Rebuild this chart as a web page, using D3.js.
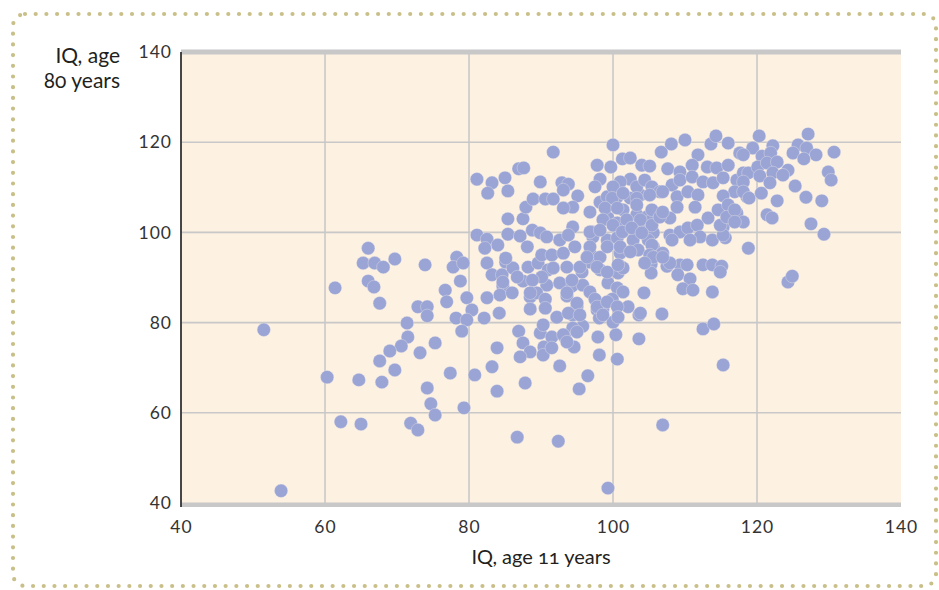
<!DOCTYPE html>
<html><head><meta charset="utf-8">
<script src="https://cdn.jsdelivr.net/npm/d3@7"></script>
<style>
html,body{margin:0;padding:0;background:#fff;}
svg{display:block;}
.tick text{font-family:Lato,"Open Sans",sans-serif;font-size:17.5px;fill:#333;letter-spacing:1px;}
.title{font-family:Lato,"Open Sans",sans-serif;fill:#231f20;font-variant-numeric:oldstyle-nums;font-feature-settings:"onum";}
</style></head>
<body>
<svg id="chart" width="939" height="590"></svg>
<script>
// IQ at age 11 (x) and IQ at age 80 (y), one entry per person
const iq11 = [
51.5,53.9,61.4,60.3,62.2,65.0,64.7,66.0,65.3,66.9,68.1,69.7,73.9,66.0,66.8,67.6,72.9,74.2,74.2,76.7,76.9,78.3,77.8,79.2,78.8,79.7,80.4,78.2,79.7,79.0,71.4,71.5,70.6,69.0,67.6,69.7,73.2,75.3,67.9,74.2,77.4,80.8,74.7,75.3,79.3,71.9,72.9,
82.5,82.1,84.2,82.5,83.2,84.6,85.1,86.1,84.7,84.3,86.0,87.5,88.2,89.6,91.0,90.8,88.5,88.5,89.4,90.6,90.6,92.2,93.6,94.3,95.8,95.0,94.4,95.8,94.4,93.3,94.6,92.6,86.9,87.5,88.5,87.1,89.9,90.3,90.4,90.3,91.5,91.5,83.9,83.2,83.9,87.8,95.3,96.5,93.1,93.6,95.0,97.9,98.1,100.4,100.6,86.7,92.4,99.3,106.9,
96.8,98.2,95.7,101.0,100.7,99.3,100.6,101.4,96.8,97.5,99.9,98.6,97.8,98.1,102.1,103.6,104.3,106.8,105.3,105.3,107.5,109.3,110.3,109.0,110.7,109.7,111.1,112.5,113.8,115.1,114.9,113.8,112.5,114.0,115.3,100.0,103.6,
81.1,83.2,82.6,85.0,85.4,86.9,87.6,91.7,89.9,81.1,82.5,82.2,84.0,85.1,85.4,85.4,87.1,87.5,87.9,88.9,90.6,91.7,92.9,93.8,93.1,95.1,94.4,93.1,94.4,
100.0,97.8,98.2,97.5,96.8,98.2,99.2,100.6,102.4,103.8,101.4,103.3,104.7,105.4,99.3,100.6,102.4,103.8,105.6,88.8,89.9,90.8,92.6,93.8,97.1,97.2,99.2,100.6,102.8,104.9,105.6,88.1,90.1,91.5,93.1,94.7,96.8,98.2,101.0,103.5,90.1,91.7,93.6,95.4,97.8,99.2,101.4,84.7,86.7,88.8,92.6,94.3,88.5,93.6,95.0,97.8,99.2,100.6,103.8,93.8,95.4,98.6,100.7,
99.7,101.3,102.4,106.7,108.1,110.0,104.0,105.1,107.6,109.3,111.8,113.6,114.3,116.0,117.6,111.0,113.1,114.4,116.0,102.4,101.0,100.0,103.3,104.4,105.4,106.5,108.2,109.3,111.0,112.5,113.9,115.3,117.2,118.1,118.6,116.9,115.3,99.9,101.4,103.3,105.1,106.9,108.9,110.4,111.8,98.9,100.6,103.3,105.4,106.9,107.9,108.9,111.4,113.2,114.6,116.0,117.2,118.1,115.3,98.6,100.0,101.9,103.8,105.4,106.5,96.8,98.2,101.3,102.6,104.0,107.9,109.3,110.4,111.7,112.1,113.8,115.6,96.8,99.2,101.0,102.4,105.4,106.9,105.1,108.2,110.7,96.4,100.7,107.9,118.8,
120.3,127.1,119.4,122.2,118.1,120.7,121.9,125.7,126.9,125.0,128.2,126.5,130.7,129.9,130.3,118.8,120.1,121.4,122.8,124.3,120.4,122.2,123.6,125.3,121.8,118.1,118.1,118.9,120.6,122.8,126.8,129.0,121.4,122.1,127.5,129.3,124.3,124.9,
106.9,115.3,114.9,115.8,116.9,116.9,105.6,106.9,104.4
];
const iq80 = [
78.4,42.7,87.7,67.9,58.0,57.5,67.3,96.5,93.2,93.2,92.3,94.1,92.8,89.2,87.9,84.3,83.5,83.5,81.5,87.2,84.6,94.5,92.3,93.2,89.2,85.5,82.8,81.0,80.6,78.1,79.9,76.8,74.8,73.7,71.5,69.5,73.3,75.5,66.8,65.5,68.8,68.4,62.0,59.5,61.1,57.7,56.2,
85.5,81.0,82.1,93.2,90.6,90.6,93.4,92.1,88.1,86.1,86.6,89.2,92.3,93.2,91.7,88.3,85.7,83.0,86.6,85.2,83.2,81.2,85.9,88.1,88.3,83.5,81.7,79.2,78.8,76.8,74.6,70.4,78.1,75.5,73.5,72.4,77.7,79.5,74.6,72.8,76.8,74.4,74.4,70.2,64.8,66.6,65.3,68.2,77.3,75.7,77.9,76.8,72.8,77.3,71.9,54.6,53.7,43.3,57.3,
93.4,91.7,91.2,92.5,91.0,88.8,87.7,86.8,86.8,85.2,85.2,83.0,82.8,81.0,83.5,81.7,86.6,81.9,93.0,91.0,92.5,92.8,92.8,90.6,89.7,87.5,87.2,92.8,92.8,92.5,91.2,86.8,78.6,79.7,70.6,80.1,76.4,
111.8,111.0,108.7,112.1,109.2,114.1,114.3,117.8,111.2,99.4,98.5,96.5,97.2,94.3,103.0,99.6,99.2,103.0,105.6,107.4,107.4,107.4,111.0,110.7,109.4,108.1,105.6,105.4,101.2,
119.4,114.9,111.8,110.1,104.5,106.7,107.9,107.9,107.6,108.3,105.0,103.9,103.4,102.8,103.2,102.1,101.2,100.5,99.9,100.5,99.9,99.0,98.3,99.4,100.1,99.0,98.3,98.8,98.3,98.3,96.8,96.8,95.0,95.0,95.4,96.8,95.4,94.5,95.4,96.1,90.1,92.1,92.3,92.3,92.3,91.2,92.1,89.0,90.1,89.4,88.8,89.4,86.6,86.6,84.3,83.5,84.6,83.5,82.1,82.1,81.7,81.7,81.2,
114.5,116.3,116.5,117.8,119.6,120.5,114.9,114.7,114.1,113.4,117.2,119.6,121.4,119.8,117.6,114.9,114.5,114.3,114.9,111.8,111.2,110.1,110.1,111.6,110.1,109.0,110.5,111.6,112.3,111.2,111.0,112.1,111.6,113.2,107.9,109.0,108.1,107.6,108.7,107.6,108.3,109.0,107.9,109.0,108.3,105.4,105.4,106.1,105.0,103.9,103.2,105.6,105.6,103.2,105.0,106.1,104.3,102.3,101.2,102.8,101.6,102.8,102.8,101.6,103.4,100.1,100.5,100.1,101.0,99.9,99.4,100.1,101.0,101.6,99.0,98.3,98.8,96.8,96.8,96.8,95.7,97.2,95.4,95.0,98.3,98.3,94.5,92.8,93.2,96.5,
121.4,121.8,118.7,119.2,117.2,116.9,117.6,119.4,118.7,117.6,117.2,116.3,117.8,113.4,111.6,113.2,114.5,115.4,115.6,113.8,112.5,113.2,112.7,110.3,111.0,111.2,109.0,107.6,108.7,107.0,107.8,107.0,103.9,103.2,101.9,99.6,89.0,90.3,
104.5,99.4,101.6,103.4,105.0,102.3,94.5,94.5,93.2
];
const xTicks = [40, 60, 80, 100, 120, 140];
const yTicks = [40, 60, 80, 100, 120, 140];
const xTitle = "IQ, age 11 years";
const yTitleLines = ["IQ, age", "80 years"];

(function () {
  const svg = d3.select("#chart");
  const pL = 181, pR = 901, pT = 52, pB = 503;
  const x = d3.scaleLinear().domain([40, 140]).range([pL, pR]);
  const y = d3.scaleLinear().domain([40, 140]).range([pB, pT]);

  // dotted rounded frame
  svg.append("rect")
    .attr("x", 13).attr("y", 14).attr("width", 923).attr("height", 572)
    .attr("rx", 12).attr("ry", 12)
    .attr("fill", "none").attr("stroke", "#c9bf88").attr("stroke-width", 4.2)
    .attr("stroke-linecap", "round").attr("stroke-dasharray", "0 10.7");

  // plot background
  svg.append("rect").attr("x", pL).attr("y", pT)
    .attr("width", pR - pL).attr("height", pB - pT).attr("fill", "#fdf1e2");

  // grid
  const grid = svg.append("g");
  grid.selectAll("line.v").data(xTicks.filter(d => d > 40 && d < 140)).join("line")
    .attr("x1", d => x(d)).attr("x2", d => x(d)).attr("y1", pT).attr("y2", pB)
    .attr("stroke", "#c8c8c8").attr("stroke-width", 1.6);
  grid.selectAll("line.h").data(yTicks.filter(d => d > 40 && d < 140)).join("line")
    .attr("y1", d => y(d)).attr("y2", d => y(d)).attr("x1", pL).attr("x2", pR)
    .attr("stroke", "#c8c8c8").attr("stroke-width", 1.6);

  // top and bottom grey bars
  svg.append("rect").attr("x", pL).attr("y", pT - 2.5).attr("width", pR - pL).attr("height", 5).attr("fill", "#c8c8c8");
  svg.append("rect").attr("x", pL).attr("y", pB - 0.5).attr("width", pR - pL).attr("height", 4.5).attr("fill", "#c8c8c8");

  // points
  const pts = iq11.map((v, i) => ({ a: v, b: iq80[i] }));
  svg.append("g").selectAll("circle").data(pts).join("circle")
    .attr("cx", d => x(d.a)).attr("cy", d => y(d.b)).attr("r", 6.7)
    .attr("fill", "#9aa5d6").attr("stroke", "#f3ece6").attr("stroke-width", 0.5).attr("stroke-opacity", 0.7);

  // left axis line
  svg.append("line").attr("x1", pL).attr("x2", pL).attr("y1", pT).attr("y2", pB + 4)
    .attr("stroke", "#333").attr("stroke-width", 1.8);

  // axes (labels only)
  const ya = svg.append("g").attr("transform", `translate(${pL},0)`)
    .call(d3.axisLeft(y).tickValues(yTicks).tickSize(0).tickPadding(9));
  ya.select(".domain").remove();
  const xa = svg.append("g").attr("transform", `translate(0,${pB})`)
    .call(d3.axisBottom(x).tickValues(xTicks).tickSize(0).tickPadding(18));
  xa.select(".domain").remove();

  // titles
  svg.append("text").attr("class", "title").attr("x", 541).attr("y", 564)
    .attr("text-anchor", "middle").attr("font-size", 20).text(xTitle);
  const yt = svg.append("text").attr("class", "title").attr("text-anchor", "end").attr("font-size", 21);
  yTitleLines.forEach((t, i) => yt.append("tspan").attr("x", 120).attr("y", 63 + i * 25).text(t));
})();
</script>
</body></html>
